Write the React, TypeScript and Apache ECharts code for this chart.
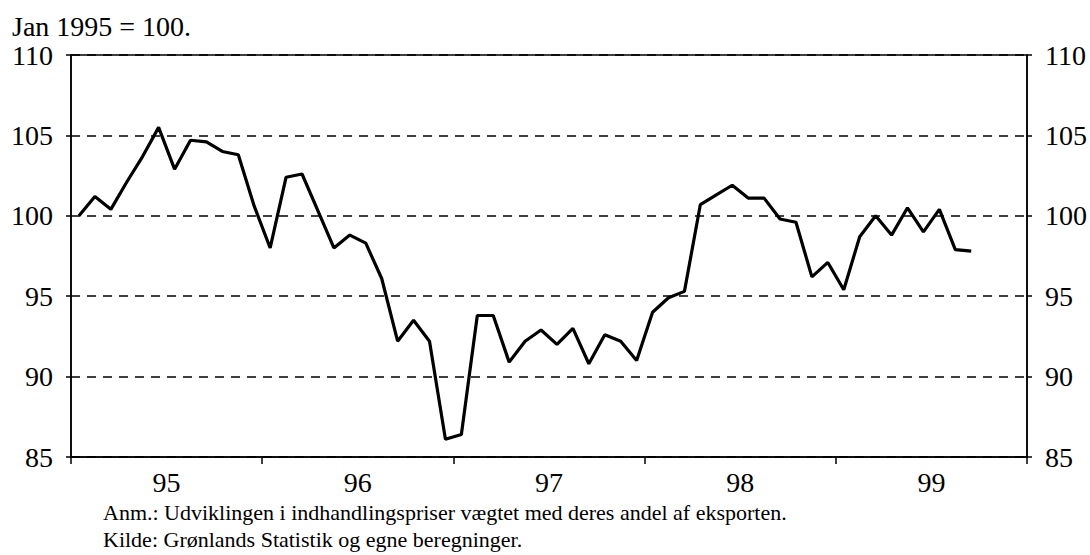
import React, { useEffect, useRef } from "react";
import * as echarts from "echarts";

const yearLabels = ["95", "96", "97", "98", "99"];
const monthNames = ["jan", "feb", "mar", "apr", "maj", "jun", "jul", "aug", "sep", "okt", "nov", "dec"];
const monthCategories: string[] = [];
yearLabels.forEach((y) => monthNames.forEach((m) => monthCategories.push(m + " " + y)));

// Jan 1995 = 100, monthly Jan 1995 - Sep 1999
const indexValues = [
  100.0, 101.2, 100.4, 102.1, 103.7, 105.5, 102.9, 104.7, 104.6, 104.0, 103.8, 100.6,
  98.0, 102.4, 102.6, 100.3, 98.0, 98.8, 98.3, 96.1, 92.2, 93.5, 92.2, 86.1,
  86.4, 93.8, 93.8, 90.9, 92.2, 92.9, 92.0, 93.0, 90.8, 92.6, 92.2, 91.0,
  94.0, 94.9, 95.3, 100.7, 101.3, 101.9, 101.1, 101.1, 99.8, 99.6, 96.2, 97.1,
  95.4, 98.7, 100.0, 98.8, 100.5, 99.0, 100.4, 97.9, 97.8,
];

const titleText = "Jan 1995 = 100.";
const noteLines = [
  "Anm.: Udviklingen i indhandlingspriser vægtet med deres andel af eksporten.",
  "Kilde: Grønlands Statistik og egne beregninger.",
];

const FONT = "'Liberation Serif', 'Times New Roman', serif";

export default function App() {
  const ref = useRef<HTMLDivElement>(null);
  useEffect(() => {
    if (!ref.current) return;
    const chart = echarts.init(ref.current, undefined, { renderer: "svg" });
    const axisLabelStyle = { color: "#000", fontSize: 28, fontFamily: FONT };
    chart.setOption({
      animation: false,
      backgroundColor: "#fff",
      grid: {
        left: 71,
        right: 62,
        top: 55,
        bottom: 98,
        show: true,
        borderColor: "#000",
        borderWidth: 1.5,
      },
      graphic: [
        {
          type: "text",
          left: 12,
          top: 12,
          style: { text: titleText, fill: "#000", fontSize: 28, fontFamily: FONT, lineHeight: 28 },
        },
        ...noteLines.map((t, i) => ({
          type: "text",
          left: 103,
          top: 501 + i * 27,
          style: { text: t, fill: "#000", fontSize: 22, fontFamily: FONT },
        })),
      ],
      xAxis: [
        {
          type: "category",
          data: monthCategories,
          boundaryGap: true,
          axisLine: { show: false },
          axisTick: { show: false },
          axisLabel: { show: false },
          splitLine: { show: false },
        },
        {
          type: "category",
          data: yearLabels,
          position: "bottom",
          boundaryGap: true,
          axisLine: { show: true, lineStyle: { color: "#000", width: 1.5 } },
          axisTick: { show: true, length: 7, lineStyle: { color: "#000", width: 1.5 } },
          axisLabel: { ...axisLabelStyle, margin: 11 },
          splitLine: { show: false },
        },
      ],
      yAxis: [
        {
          type: "value",
          min: 85,
          max: 110,
          interval: 5,
          position: "left",
          axisLine: { show: true, lineStyle: { color: "#000", width: 1.5 } },
          axisTick: { show: true, length: 5, lineStyle: { color: "#000", width: 1.5 } },
          axisLabel: { ...axisLabelStyle, margin: 18, lineHeight: 24 },
          splitLine: { show: true, lineStyle: { color: "#000", type: [9, 7], width: 1.5 } },
        },
        {
          type: "value",
          min: 85,
          max: 110,
          interval: 5,
          position: "right",
          axisLine: { show: true, lineStyle: { color: "#000", width: 1.5 } },
          axisTick: { show: true, length: 5, lineStyle: { color: "#000", width: 1.5 } },
          axisLabel: { ...axisLabelStyle, margin: 18, lineHeight: 24 },
          splitLine: { show: false },
        },
      ],
      series: [
        {
          type: "line",
          xAxisIndex: 0,
          yAxisIndex: 0,
          data: indexValues,
          showSymbol: false,
          symbol: "none",
          lineStyle: { color: "#000", width: 3.2 },
        },
      ],
    });
    return () => chart.dispose();
  }, []);
  return (
    <div
      ref={ref}
      style={{ position: "absolute", left: 0, top: 0, width: 1090, height: 555, background: "#fff" }}
    />
  );
}
